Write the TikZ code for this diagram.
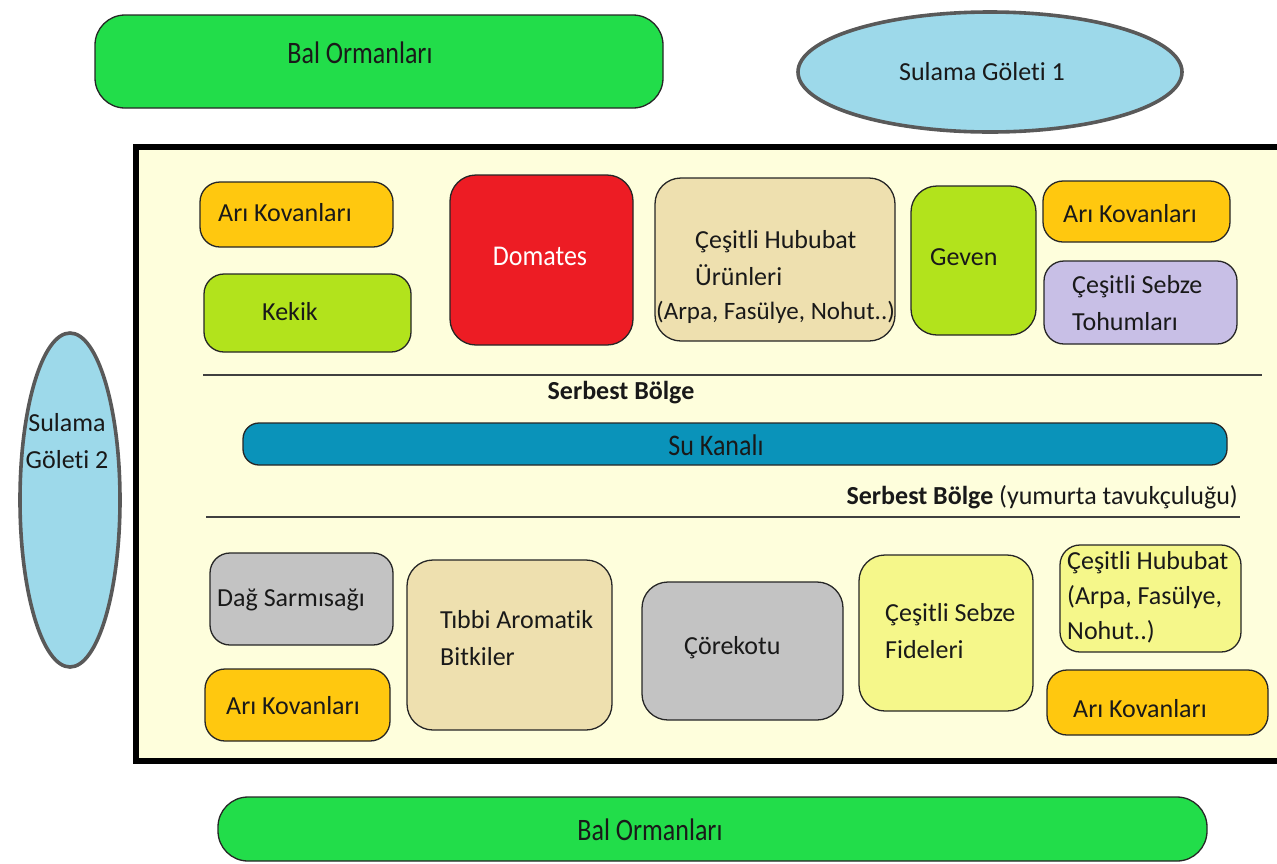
\documentclass[tikz,border=0pt]{standalone}
\usepackage{fontspec}
\setmainfont{Carlito}[Ligatures=NoCommon]
\usetikzlibrary{shapes.geometric,fit}

\definecolor{forestgreen}{HTML}{22DD4A}
\definecolor{pondblue}{HTML}{9DD9EA}
\definecolor{fieldbg}{HTML}{FEFEDC}
\definecolor{hiveorange}{HTML}{FFC80F}
\definecolor{limegreen}{HTML}{B2E31C}
\definecolor{tomatored}{HTML}{ED1C24}
\definecolor{grainbeige}{HTML}{EEE0AF}
\definecolor{seedlilac}{HTML}{C8BFE6}
\definecolor{stonegray}{HTML}{C3C3C3}
\definecolor{paleyellow}{HTML}{F5F78A}
\definecolor{canalblue}{HTML}{0A93BA}

\tikzset{
  plot/.style={draw=black!85, line width=1.3pt, rounded corners=20pt, inner sep=0pt, outer sep=0pt},
  bigplot/.style={plot, rounded corners=26pt},
  pond/.style={ellipse, draw=black!65, line width=3.6pt, fill=pondblue, inner sep=0pt},
  txt/.style={font=\fontsize{26}{37}\selectfont, anchor=west, inner sep=0pt, align=left, text=black!90},
  ctxt/.style={txt, anchor=center, align=center},
  tall/.style={ctxt, yscale=1.2},
  divider/.style={draw=black!75, line width=2pt}
}

\begin{document}
\begin{tikzpicture}[x=1pt, y=-1pt]
\useasboundingbox (0,0) rectangle (1277,863);

% surrounding forests and ponds
\node[plot, rounded corners=30pt, fill=forestgreen, fit={(95,15) (663,108)}] (forestTop) {};
\node[tall] (forestTopLbl) at (360,53) {Bal Ormanları};
\node[plot, rounded corners=30pt, fill=forestgreen, fit={(218,797) (1207,861)}] (forestBot) {};
\node[tall] (forestBotLbl) at (650,830) {Bal Ormanları};

\node[pond, minimum width=384pt, minimum height=120pt] (pond1) at (990,72) {};
\node[ctxt] (pond1Lbl) at (982,72) {Sulama Göleti 1};
\node[pond, minimum width=100pt, minimum height=334pt] (pond2) at (70,500) {};
\node[ctxt] (pond2Lbl) at (67,441) {Sulama\\Göleti 2};

% farm area
\node[draw=black, line width=6pt, fill=fieldbg, inner sep=0pt, fit={(136,147) (1290,761)}] (farm) {};

% upper plots
\node[plot, fill=hiveorange, fit={(200,182) (393,247)}] (hiveA) {};
\node[txt] (hiveALbl) at (218,213) {Arı Kovanları};
\node[plot, fill=limegreen, fit={(204,274) (411,352)}] (thyme) {};
\node[txt] (thymeLbl) at (262,312) {Kekik};
\node[bigplot, fill=tomatored, fit={(450,175) (633,345)}] (tomato) {};
\node[ctxt, text=white, yscale=1.1] (tomatoLbl) at (540,256) {Domates};
\node[bigplot, fill=grainbeige, fit={(655,178) (895,341)}] (grainA) {};
\node[txt] (grainALbl) at (695,258) {Çeşitli Hububat\\Ürünleri};
\node[txt, font=\fontsize{25}{37}\selectfont] (grainAsub) at (656,312) {(Arpa, Fasülye, Nohut..)};
\node[bigplot, fill=limegreen, fit={(911,186) (1036,335)}] (geven) {};
\node[txt] (gevenLbl) at (930,257) {Geven};
\node[plot, fill=hiveorange, fit={(1043,181) (1230,242)}] (hiveB) {};
\node[txt] (hiveBLbl) at (1063,214) {Arı Kovanları};
\node[plot, fill=seedlilac, fit={(1044,261) (1237,344)}] (seeds) {};
\node[txt] (seedsLbl) at (1072,303) {Çeşitli Sebze\\Tohumları};

% free range strip with the canal
\coordinate (divUpL) at (203,375);
\coordinate (divUpR) at (1262,375);
\draw[divider] (divUpL) -- (divUpR);
\node[ctxt, font=\fontsize{26}{37}\selectfont\bfseries] (freeA) at (621,393) {Serbest Bölge};
\node[plot, rounded corners=16pt, fill=canalblue, fit={(243,423) (1227,465)}] (canal) {};
\node[ctxt, yscale=1.15] (canalLbl) at (716,445) {Su Kanalı};
\node[txt, anchor=east] (freeB) at (1238,497) {\textbf{Serbest Bölge} (yumurta tavukçuluğu)};
\coordinate (divLoL) at (206,517);
\coordinate (divLoR) at (1240,517);
\draw[divider] (divLoL) -- (divLoR);

% lower plots
\node[plot, fill=stonegray, fit={(210,553) (393,645)}] (garlic) {};
\node[txt] (garlicLbl) at (217,600) {Dağ Sarmısağı};
\node[plot, fill=hiveorange, fit={(205,669) (390,741)}] (hiveC) {};
\node[txt] (hiveCLbl) at (226,706) {Arı Kovanları};
\node[bigplot, fill=grainbeige, fit={(407,560) (612,730)}] (herbs) {};
\node[txt] (herbsLbl) at (440,638) {Tıbbi Aromatik\\Bitkiler};
\node[bigplot, fill=stonegray, fit={(642,582) (843,720)}] (cumin) {};
\node[txt] (cuminLbl) at (684,648) {Çörekotu};
\node[bigplot, fill=paleyellow, fit={(859,555) (1033,711)}] (seedlings) {};
\node[txt] (seedlingsLbl) at (885,631) {Çeşitli Sebze\\Fideleri};
\node[plot, fill=paleyellow, fit={(1060,545) (1241,652)}] (grainB) {};
\node[txt, font=\fontsize{26}{35}\selectfont] (grainBLbl) at (1067,597) {Çeşitli Hububat\\(Arpa, Fasülye,\\Nohut..)};
\node[plot, fill=hiveorange, fit={(1047,670) (1268,735)}] (hiveD) {};
\node[txt] (hiveDLbl) at (1073,709) {Arı Kovanları};

\end{tikzpicture}
\end{document}
